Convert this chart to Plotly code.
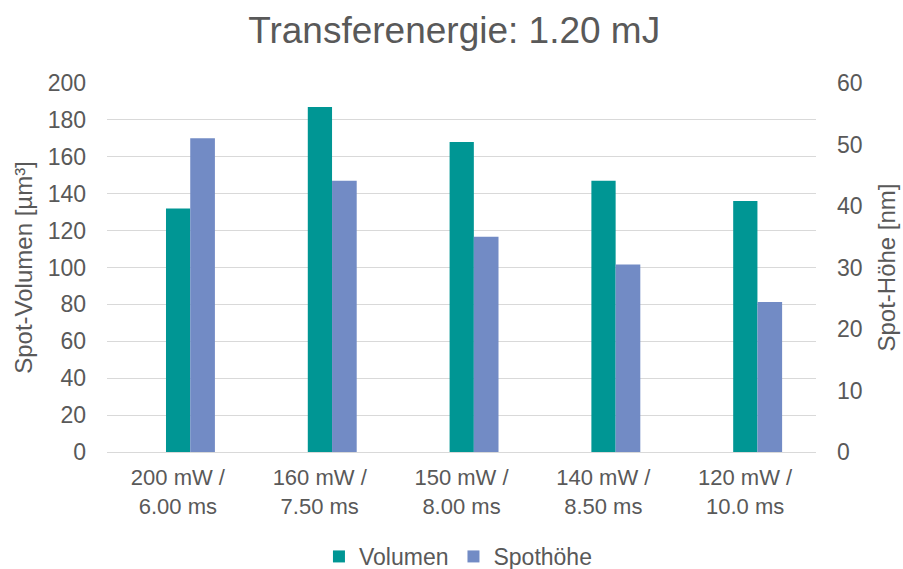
import plotly.graph_objects as go

# Data
categories = ["200 mW /<br>6.00 ms", "160 mW /<br>7.50 ms", "150 mW /<br>8.00 ms",
              "140 mW /<br>8.50 ms", "120 mW /<br>10.0 ms"]
volumen = [132, 187, 168, 147, 136]        # Spot-Volumen [µm³], left axis
spothoehe = [51, 44.1, 35, 30.5, 24.4]     # Spot-Höhe [nm], right axis

FONT = "Liberation Sans, Arial, sans-serif"
GREY = "#595959"
GRID = "#D9D9D9"

fig = go.Figure()
fig.add_trace(go.Bar(
    x=categories, y=volumen, name="Volumen", yaxis="y",
    marker=dict(color="#009694", line=dict(width=0)),
    offset=-0.084, width=0.171,
))
fig.add_trace(go.Bar(
    x=categories, y=spothoehe, name="Spothöhe", yaxis="y2",
    marker=dict(color="#728BC5", line=dict(width=0)),
    offset=0.087, width=0.174,
))

fig.update_layout(
    width=903, height=569,
    margin=dict(l=107, r=87, t=83, b=117, autoexpand=False),
    paper_bgcolor="white", plot_bgcolor="white",
    barmode="overlay",
    font=dict(family=FONT, color=GREY),
    title=dict(text="Transferenergie: 1.20 mJ", x=0.503, xanchor="center",
               y=0.948, yref="container", yanchor="middle",
               font=dict(size=37, color=GREY, family=FONT)),
    xaxis=dict(type="category", showgrid=False, showline=False, zeroline=False,
               ticks="", tickfont=dict(size=22, color=GREY), ticklabelstandoff=10),
    yaxis=dict(range=[0, 200], dtick=20, showgrid=True, gridcolor=GRID, gridwidth=1.3,
               zeroline=True, zerolinecolor=GRID, zerolinewidth=1.3,
               showline=False, ticks="", ticklabelstandoff=20,
               tickfont=dict(size=23, color=GREY),
               title=dict(text="Spot-Volumen [µm³]", standoff=8,
                          font=dict(size=24, color=GREY))),
    yaxis2=dict(range=[0, 60], dtick=10, overlaying="y", side="right",
                showgrid=False, zeroline=False, showline=False, ticks="",
                ticklabelstandoff=20, tickfont=dict(size=23, color=GREY),
                title=dict(text="Spot-Höhe [nm]", standoff=16,
                           font=dict(size=24, color=GREY))),
    legend=dict(orientation="h", x=0.495, xanchor="center",
                y=0.022, yref="container", yanchor="middle",
                font=dict(size=23, color=GREY), itemwidth=30, tracegroupgap=0,
                bgcolor="rgba(0,0,0,0)"),
    showlegend=True,
)

fig.write_html("out.html")
